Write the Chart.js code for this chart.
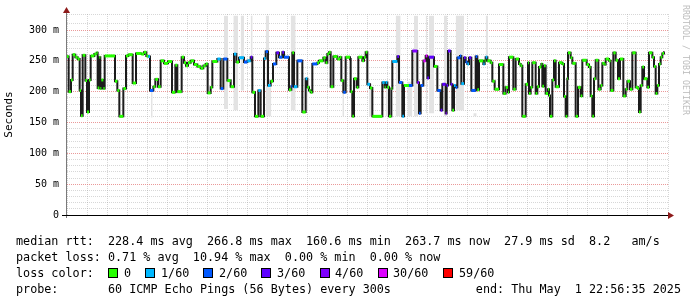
<!DOCTYPE html>
<html>
<head>
<meta charset="utf-8">
<script src="https://cdn.jsdelivr.net/npm/chart.js@4.4.1/dist/chart.umd.min.js"></script>
<style>
  body { margin: 0; background: #fff; }
  #wrap { position: relative; width: 697px; height: 297px; overflow: hidden; background: #fff; }
  #chart { position: absolute; left: 0; top: 0; }
  .legend {
    position: absolute; left: 16px; height: 16px;
    font: 11.76px "DejaVu Sans Mono", monospace; line-height: 16px;
    white-space: pre; color: #000;
  }
  .box { position: absolute; top: 3px; width: 8px; height: 8px; border: 1px solid #000; }
  .lbl { position: absolute; top: 0; }
  #mark {
    position: absolute; left: 691px; top: 5px;
    font: 8.3px "DejaVu Sans Mono", monospace; line-height: 10px;
    color: #bdbdbd; white-space: pre;
    transform: rotate(90deg); transform-origin: 0 0;
  }
</style>
</head>
<body>
<div id="wrap">
  <canvas id="chart" width="697" height="297"></canvas>
  <div id="mark">RRDTOOL / TOBI OETIKER</div>
  <div class="legend" style="top:233px">median rtt:  228.4 ms avg  266.8 ms max  160.6 ms min  263.7 ms now  27.9 ms sd  8.2   am/s</div>
  <div class="legend" style="top:249px">packet loss: 0.71 % avg  10.94 % max  0.00 % min  0.00 % now</div>
  <div class="legend" id="lossLine" style="top:265px; width:600px">loss color:</div>
  <div class="legend" style="top:281px">probe:       60 ICMP Echo Pings (56 Bytes) every 300s            end: Thu May  1 22:56:35 2025</div>
</div>
<script>
// loss colours (smokeping style) and their legend texts
const lossColors = ["#26ff00", "#00b8ff", "#0059ff", "#5e00ff", "#7e00ff", "#dd00ff", "#ff0000"];
const lossLabels = ["0", "1/60", "2/60", "3/60", "4/60", "30/60", "59/60"];

// median rtt steps: start of each step in minutes from Thu 00:00, value in ms, loss colour index
const runStart = [
  -423, -418, -411, -406, -398, -391, -385, -381, -376, -368, -363, -357, -352, -341, -334,
  -331, -326, -323, -320, -314, -310, -279, -272, -266, -254, -246, -239, -226, -216, -200,
  -192, -185, -179, -174, -164, -158, -150, -142, -132, -120, -108, -98, -92, -79, -72,
  -66, -60, -52, -42, -32, -22, -14, -7, -1, 8, 13, 28, 38, 46, 58,
  68, 78, 85, 93, 108, 118, 128, 133, 141, 151, 158, 168, 173, 180, 188,
  195, 205, 213, 223, 228, 243, 250, 253, 258, 268, 283, 293, 298, 303, 308,
  313, 328, 333, 346, 353, 358, 363, 368, 376, 388, 396, 400, 406, 413, 426,
  428, 433, 438, 446, 451, 463, 468, 473, 478, 486, 493, 523, 530, 533, 538,
  543, 550, 553, 568, 573, 583, 588, 603, 613, 628, 633, 638, 646, 653, 658,
  663, 678, 688, 698, 703, 713, 716, 720, 728, 733, 738, 743, 748, 756, 760,
  768, 773, 778, 783, 790, 803, 808, 813, 826, 830, 833, 838, 848, 853, 860,
  873, 886, 893, 900, 903, 916, 923, 933, 938, 943, 953, 960, 963, 968, 973,
  983, 988, 993, 1000, 1003, 1008, 1013, 1020, 1023, 1026, 1033, 1038, 1043, 1053, 1063,
  1068, 1073, 1078, 1080, 1088, 1093, 1103, 1110, 1118, 1123, 1136, 1143, 1148, 1153, 1158,
  1163, 1171, 1178, 1183, 1190, 1193, 1203, 1208, 1216, 1223, 1230, 1236, 1246, 1253, 1258,
  1266, 1273, 1283, 1290, 1293, 1298, 1303, 1308, 1318, 1323, 1333, 1338, 1343, 1348, 1353,
  1358, 1363, 1368
];
const runMs = [
  257, 200, 219, 260, 256, 253, 202, 161, 259, 218, 167, 219, 258, 261, 263,
  206, 256, 205, 219, 205, 258, 217, 202, 160, 205, 258, 260, 214, 262, 261,
  264, 258, 257, 202, 208, 220, 208, 250, 246, 249, 199, 243, 200, 256, 247,
  242, 247, 250, 244, 241, 238, 242, 245, 198, 207, 249, 253, 205, 253, 218,
  208, 261, 248, 255, 248, 250, 256, 199, 160, 202, 160, 254, 265, 210, 217,
  245, 263, 256, 264, 256, 203, 209, 263, 208, 250, 167, 221, 207, 202, 199,
  245, 247, 250, 255, 247, 261, 264, 208, 257, 253, 256, 218, 199, 256, 253,
  200, 160, 221, 207, 256, 250, 256, 264, 212, 206, 160, 215, 207, 215, 207,
  160, 205, 249, 257, 215, 160, 210, 210, 266, 215, 165, 210, 250, 258, 222,
  256, 241, 202, 170, 212, 165, 210, 266, 212, 170, 210, 207, 255, 258, 213,
  255, 248, 245, 255, 202, 257, 203, 250, 245, 250, 256, 250, 247, 217, 204,
  244, 197, 207, 199, 256, 204, 253, 245, 242, 160, 212, 247, 197, 207, 247,
  197, 208, 240, 245, 209, 242, 197, 204, 194, 160, 219, 250, 208, 247, 245,
  192, 160, 221, 263, 255, 246, 160, 207, 193, 251, 244, 240, 193, 160, 221,
  251, 204, 210, 246, 244, 253, 250, 202, 263, 251, 221, 253, 193, 204, 217,
  204, 263, 207, 205, 167, 210, 240, 221, 207, 263, 256, 241, 197, 210, 245,
  256, 262, 264
];
const runLoss = [
  0, 0, 0, 0, 0, 0, 0, 0, 0, 0, 0, 0, 0, 0, 0,
  0, 0, 0, 0, 0, 0, 0, 0, 0, 0, 0, 0, 0, 0, 0,
  0, 0, 1, 2, 0, 0, 0, 0, 0, 0, 0, 0, 0, 0, 0,
  0, 0, 0, 0, 0, 0, 0, 0, 0, 0, 0, 1, 2, 2, 0,
  0, 1, 0, 1, 2, 1, 3, 0, 0, 1, 0, 1, 2, 1, 0,
  2, 3, 2, 3, 2, 0, 2, 0, 1, 2, 0, 1, 0, 0, 0,
  2, 0, 0, 0, 0, 0, 0, 0, 0, 0, 0, 0, 2, 0, 0,
  0, 0, 0, 0, 0, 0, 0, 0, 1, 0, 0, 1, 0, 1, 0,
  0, 0, 1, 3, 2, 1, 0, 2, 4, 4, 2, 2, 5, 5, 3,
  3, 0, 2, 3, 3, 4, 3, 3, 3, 0, 1, 2, 2, 2, 1,
  3, 2, 1, 3, 2, 2, 0, 0, 1, 0, 1, 0, 0, 0, 0,
  0, 0, 0, 0, 0, 0, 0, 0, 0, 0, 0, 0, 0, 0, 0,
  0, 0, 0, 0, 0, 0, 0, 0, 0, 0, 0, 0, 0, 0, 0,
  0, 0, 0, 0, 0, 0, 0, 0, 0, 0, 0, 0, 0, 0, 0,
  0, 0, 0, 0, 0, 0, 0, 0, 0, 0, 0, 0, 0, 0, 0,
  0, 0, 0, 0, 0, 0, 0, 0, 0, 0, 0, 0, 0, 0, 0,
  0, 0, 0
];
const lineEnd = 1370;

// smoke (spread of the pings) where it is visible
const smokeStart = [-171, 48, 76, 98, 128, 173, 183, 248, 291, 403, 483, 533, 563, 598, 618, 653, 663, 708, 743, 796, 833];
const smokeEnd   = [-166, 60, 90, 108, 134, 183, 190, 263, 301, 408, 493, 546, 578, 613, 630, 658, 678, 718, 768, 806, 840];
const smokeLow   = [158, 172, 170, 202, 223, 160, 160, 170, 170, 160, 160, 160, 160, 160, 160, 165, 165, 160, 170, 160, 250];
const smokeHigh  = [205, 323, 323, 323, 323, 323, 207, 323, 222, 207, 213, 210, 323, 216, 323, 323, 323, 323, 323, 165, 323];

// axis ranges: minutes from Thu 00:00 (Wed 16:57 .. Thu 23:00), ms
const xMin = -423, xMax = 1380;
const yMax = 326;

const minorGrid = "rgba(160,160,160,0.42)";
const majorGrid = "rgba(225,110,110,0.7)";

Chart.defaults.font.family = '"DejaVu Sans Mono", monospace';
Chart.defaults.color = "#000";

// legend line with the loss colours (box, label, two-space gap)
const lossLine = document.getElementById("lossLine");
const boxLeft = [92, 129, 187, 245, 304, 362, 427];
const lblLeft = [108, 145, 203, 261, 319, 377, 443];
lossLabels.forEach((txt, i) => {
  const b = document.createElement("span");
  b.className = "box";
  b.style.left = boxLeft[i] + "px";
  b.style.background = lossColors[i];
  lossLine.appendChild(b);
  const l = document.createElement("span");
  l.className = "lbl";
  l.style.left = lblLeft[i] + "px";
  l.textContent = txt;
  lossLine.appendChild(l);
});

// build datasets from the arrays
const medianPts = runStart.map((t, i) => ({ x: t, y: runMs[i] }));
medianPts.push({ x: lineEnd, y: runMs[runMs.length - 1] });

const capPts = [];
runStart.forEach((t, i) => {
  const t1 = i + 1 < runStart.length ? runStart[i + 1] : lineEnd;
  capPts.push({ x: t, y: runMs[i] }, { x: t1, y: runMs[i] }, { x: t1, y: null });
});

const smokeHiPts = [];
const smokeLoPts = [];
smokeStart.forEach((t, i) => {
  smokeHiPts.push({ x: t, y: smokeHigh[i] }, { x: smokeEnd[i], y: smokeHigh[i] }, { x: smokeEnd[i], y: null });
  smokeLoPts.push({ x: t, y: smokeLow[i] }, { x: smokeEnd[i], y: smokeLow[i] }, { x: smokeEnd[i], y: null });
});

// axis lines with the little arrow heads
const axisArrows = {
  id: "axisArrows",
  afterDraw(chart) {
    const { ctx, chartArea: a } = chart;
    ctx.save();
    ctx.lineWidth = 1;
    ctx.strokeStyle = "#7a7a7a";
    ctx.beginPath();
    ctx.moveTo(a.left - 0.5, a.bottom + 3);
    ctx.lineTo(a.left - 0.5, a.top - 2);
    ctx.stroke();
    ctx.strokeStyle = "#000";
    ctx.beginPath();
    ctx.moveTo(a.left - 5, a.bottom + 0.5);
    ctx.lineTo(a.right + 2, a.bottom + 0.5);
    ctx.stroke();
    ctx.fillStyle = "#8e1b1b";
    ctx.beginPath();
    ctx.moveTo(a.left - 4, a.top - 1);
    ctx.lineTo(a.left + 3, a.top - 1);
    ctx.lineTo(a.left - 0.5, a.top - 7);
    ctx.closePath();
    ctx.fill();
    ctx.beginPath();
    ctx.moveTo(a.right, a.bottom - 3);
    ctx.lineTo(a.right, a.bottom + 4);
    ctx.lineTo(a.right + 6, a.bottom + 0.5);
    ctx.closePath();
    ctx.fill();
    ctx.restore();
  }
};

new Chart(document.getElementById("chart"), {
  type: "line",
  data: {
    datasets: [
      {
        data: capPts,
        borderColor: lossColors[0],
        borderWidth: 3,
        borderCapStyle: "butt",
        pointRadius: 0,
        order: 1,
        segment: {
          borderColor: (c) => lossColors[runLoss[Math.floor(c.p0DataIndex / 3)]]
        }
      },
      {
        data: medianPts,
        stepped: true,
        borderColor: "#1c1c1c",
        borderWidth: 2,
        pointRadius: 0,
        order: 2
      },
      {
        data: smokeHiPts,
        borderColor: "rgba(0,0,0,0)",
        borderWidth: 1,
        backgroundColor: "#e3e3e3",
        pointRadius: 0,
        fill: "+1",
        order: 3
      },
      {
        data: smokeLoPts,
        borderColor: "rgba(0,0,0,0)",
        borderWidth: 1,
        pointRadius: 0,
        fill: false,
        order: 4
      }
    ]
  },
  options: {
    responsive: false,
    animation: false,
    events: [],
    layout: { padding: { left: 0, top: 13, right: 29, bottom: 62 } },
    plugins: { legend: { display: false }, tooltip: { enabled: false } },
    scales: {
      x: {
        type: "linear",
        min: xMin,
        max: xMax,
        afterFit: (s) => { s.height = 20; },
        border: { display: false, dash: [1, 1] },
        grid: {
          drawTicks: false,
          color: (c) => (c.tick && c.tick.value % 360 === 0 ? majorGrid : minorGrid)
        },
        ticks: {
          stepSize: 60,
          includeBounds: false,
          autoSkip: false,
          maxRotation: 0,
          minRotation: 0,
          padding: 3,
          font: { size: 10 },
          callback: (v) => (v === 0 ? "Thu 00:00" : v === 720 ? "Thu 12:00" : "")
        }
      },
      y: {
        type: "linear",
        min: 0,
        max: yMax,
        afterFit: (s) => { s.width = 67; },
        border: { display: false, dash: [1, 1] },
        grid: {
          drawTicks: false,
          color: (c) => (c.tick && c.tick.value % 50 === 0 ? majorGrid : minorGrid)
        },
        title: {
          display: true,
          text: "Seconds",
          font: { size: 11 },
          padding: { top: 3, bottom: 0 }
        },
        ticks: {
          stepSize: 10,
          autoSkip: false,
          padding: 8,
          font: { size: 10 },
          callback: (v) => (v === 0 ? "0" : v % 50 === 0 ? v + " m" : "")
        }
      }
    }
  },
  plugins: [axisArrows]
});
</script>
</body>
</html>
